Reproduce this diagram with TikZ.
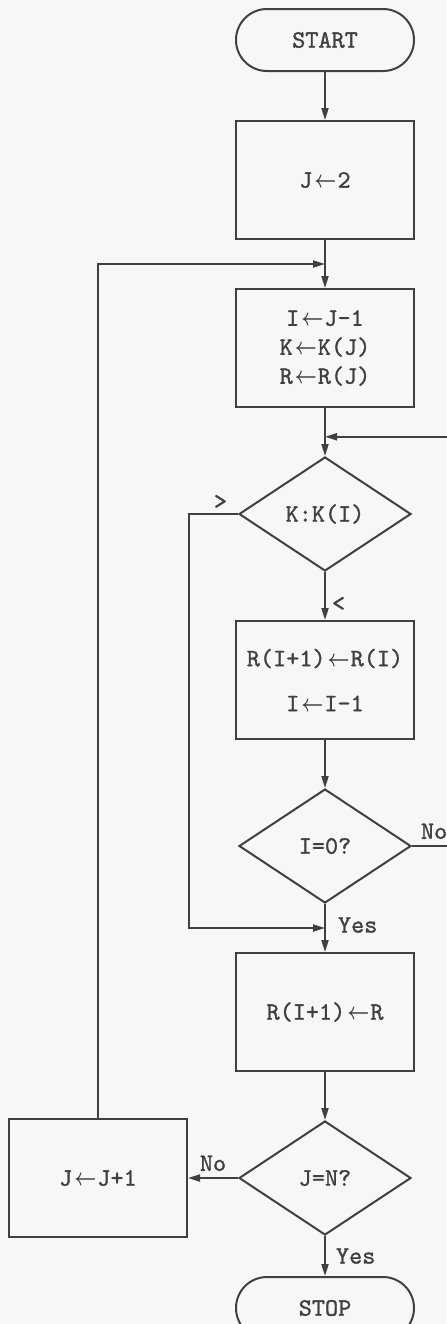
\documentclass[tikz,border=0pt]{standalone}
\usepackage{amsmath}
\usepackage{fontspec}
\setmonofont{lmmono10-regular.otf}[FakeBold=1.2]
\usetikzlibrary{shapes.geometric, arrows.meta, positioning, calc}
\colorlet{ink}{black!75}
\newcommand{\asg}{\hspace{1pt}\scalebox{.8}[1]{$\boldsymbol{\leftarrow}$}\hspace{0.5pt}}

\begin{document}
\begin{tikzpicture}[
  node distance=24pt and 25pt,
  font=\ttfamily\fontsize{12.5}{14.5}\selectfont,
  color=ink, line width=1pt,
  terminal/.style={rectangle, draw, rounded corners=15.5pt, minimum width=89pt, minimum height=31pt, align=center},
  process/.style={rectangle, draw, minimum width=89pt, minimum height=59pt, align=center},
  decision/.style={diamond, draw, aspect=1.5, inner sep=0pt, minimum width=86pt, minimum height=57pt, align=center},
  arrow/.style={-{Triangle[length=6pt, width=3.5pt]}},
  tag/.style={inner sep=1pt}
]

% Page
\fill[black!3] (0,0) rectangle (223pt,-662pt);
\useasboundingbox (0,0) rectangle (223pt,-662pt);

% Nodes
\node[terminal] (start) at (162.5pt,-20pt) {START};
\node[process, below=of start] (jinit) {J\asg2};
\node[process, below=of jinit] (load) {I\asg J-1\\K\asg K(J)\\R\asg R(J)};
\node[decision, below=of load] (cmp) {K:K(I)};
\node[process, below=of cmp] (shift) {R(I+1)\asg R(I)\\[8pt]I\asg I-1};
\node[decision, below=of shift] (izero) {I=0?};
\node[process, below=of izero] (store) {R(I+1)\asg R};
\node[decision, below=of store] (jdone) {J=N?};
\node[terminal, below=20pt of jdone] (stop) {STOP};
\node[process, left=25pt of jdone] (jinc) {J\asg J+1};

% Junctions
\coordinate (m1) at ($(jinit.south)!.5!(load.north)$);
\coordinate (m2) at ($(load.south)!.6!(cmp.north)$);
\coordinate (m3) at ($(izero.south)!.5!(store.north)$);
\coordinate (m4) at ($(jdone.south)!.5!(stop.north)$);
\coordinate (m5) at ($(jinc.east)!.5!(jdone.west)$);
\path (m2) ++(63pt,0) coordinate (redge);

% Arrows
\draw[arrow] (start) -- (jinit);
\draw[arrow] (jinit) -- (load);
\draw[arrow] (load) -- (cmp);
\draw[arrow] (cmp) -- (shift);
\draw[arrow] (shift) -- (izero);
\draw[arrow] (izero) -- (store);
\draw[arrow] (store) -- (jdone);
\draw[arrow] (jdone) -- (stop);
\draw[arrow] (jdone) -- (jinc);
\draw[arrow] (jinc.north) |- (m1); % next J
\draw[arrow] (cmp.west) -- ++(-24.5pt,0) |- (m3); % K > K(I)
\draw[arrow] (izero.east) -| (redge) -- (m2); % I not 0, back to compare

% Labels
\node[tag, above left=1pt and 4pt of cmp.west] {>};
\node[tag, anchor=west] at ($(shift.north)+(2pt,8pt)$) {<};
\node[tag, above right=2pt and 3pt of izero.east] {No};
\node[tag, right=5pt of m3, yshift=1.5pt] {Yes};
\node[tag, right=4pt of m4] {Yes};
\node[tag, above=2pt of m5] {No};

\end{tikzpicture}
\end{document}
